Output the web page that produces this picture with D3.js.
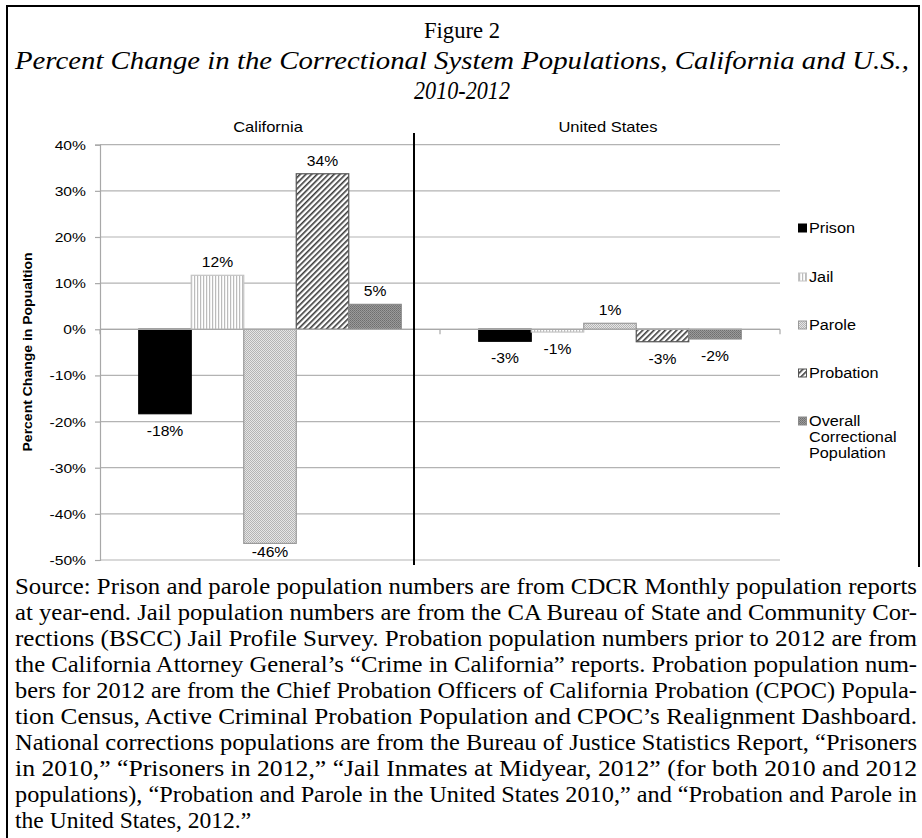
<!DOCTYPE html>
<html><head><meta charset="utf-8">
<script src="https://cdn.jsdelivr.net/npm/d3@7"></script>
<style>body{margin:0;background:#fff}</style>
</head><body><svg id="c" width="922" height="838"></svg>
<script>
// ---- data ----
const regions = ["California", "United States"];
const seriesNames = ["Prison", "Jail", "Parole", "Probation", "Overall Correctional Population"];
const legendLines = [["Prison"], ["Jail"], ["Parole"], ["Probation"], ["Overall", "Correctional", "Population"]];
const californiaValues = [-18.3, 11.7, -46.4, 33.7, 5.4];
const unitedStatesValues = [-2.6, -0.6, 1.3, -2.7, -2.1];
const yTicks = [40, 30, 20, 10, 0, -10, -20, -30, -40, -50];
const titleLines = ["Figure 2", "Percent Change in the Correctional System Populations, California and U.S.,", "2010-2012"];
const yAxisTitle = "Percent Change in Popualtion";
const sourceLines = [
  "Source: Prison and parole population numbers are from CDCR Monthly population reports",
  "at year-end. Jail population numbers are from the CA Bureau of State and Community Cor-",
  "rections (BSCC) Jail Profile Survey. Probation population numbers prior to 2012 are from",
  "the California Attorney General\u2019s \u201cCrime in California\u201d reports. Probation population num-",
  "bers for 2012 are from the Chief Probation Officers of California Probation (CPOC) Popula-",
  "tion Census, Active Criminal Probation Population and CPOC\u2019s Realignment Dashboard.",
  "National corrections populations are from the Bureau of Justice Statistics Report, \u201cPrisoners",
  "in 2010,\u201d \u201cPrisoners in 2012,\u201d \u201cJail Inmates at Midyear, 2012\u201d (for both 2010 and 2012",
  "populations), \u201cProbation and Parole in the United States 2010,\u201d and \u201cProbation and Parole in",
  "the United States, 2012.\u201d"
];
const valuesByRegion = { "California": californiaValues, "United States": unitedStatesValues };

// ---- setup ----
const svg = d3.select("#c");
const SANS = "'Liberation Sans', Arial, sans-serif";
const SERIF = "'Liberation Serif', 'Times New Roman', serif";

const defs = svg.append("defs");
function pat(id, w, h, draw, tr) {
  const p = defs.append("pattern").attr("id", id).attr("patternUnits", "userSpaceOnUse")
    .attr("width", w).attr("height", h);
  if (tr) p.attr("patternTransform", tr);
  draw(p);
}
pat("pJail", 3, 3, p => {
  p.append("rect").attr("width", 3).attr("height", 3).attr("fill", "#fff");
  p.append("rect").attr("x", 1).attr("width", 1.2).attr("height", 3).attr("fill", "#bcbcbc");
});
pat("pParole", 2, 2, p => {
  p.append("rect").attr("width", 2).attr("height", 2).attr("fill", "#e6e6e6");
  p.append("rect").attr("width", 1).attr("height", 1).attr("fill", "#b4b4b4");
  p.append("rect").attr("x", 1).attr("y", 1).attr("width", 1).attr("height", 1).attr("fill", "#b4b4b4");
});
pat("pProb", 4, 4, p => {
  p.append("rect").attr("width", 4).attr("height", 4).attr("fill", "#fff");
  p.append("rect").attr("width", 1.6).attr("height", 4).attr("fill", "#3a3a3a");
}, "rotate(45)");
pat("pOverall", 2, 2, p => {
  p.append("rect").attr("width", 2).attr("height", 2).attr("fill", "#9a9a9a");
  p.append("rect").attr("width", 1).attr("height", 1).attr("fill", "#6e6e6e");
  p.append("rect").attr("x", 1).attr("y", 1).attr("width", 1).attr("height", 1).attr("fill", "#7a7a7a");
});
const fills = ["#000", "url(#pJail)", "url(#pParole)", "url(#pProb)", "url(#pOverall)"];
const strokes = ["#000", "#c4c4c4", "#9a9a9a", "#555", "#8a8a8a"];

// stretched sans text helper
function stext(g, x, y, str, opts = {}) {
  const sx = opts.sx || 1.16;
  return g.append("text")
    .attr("transform", `translate(${x},${y}) scale(${sx},1)`)
    .attr("text-anchor", opts.anchor || "middle")
    .attr("font-family", SANS)
    .attr("font-size", opts.size || 13.5)
    .attr("font-weight", opts.weight || "normal")
    .attr("fill", "#000")
    .text(str);
}

// ---- frame ----
svg.append("line").attr("x1", 7).attr("x2", 920).attr("y1", 6).attr("y2", 6).attr("stroke", "#000").attr("stroke-width", 2);
svg.append("line").attr("x1", 7).attr("x2", 7).attr("y1", 5).attr("y2", 838).attr("stroke", "#000").attr("stroke-width", 2);
svg.append("line").attr("x1", 919).attr("x2", 919).attr("y1", 5).attr("y2", 567).attr("stroke", "#000").attr("stroke-width", 2);

// ---- titles ----
svg.append("text").attr("x", 462).attr("y", 38).attr("text-anchor", "middle")
  .attr("font-family", SERIF).attr("font-size", 24)
  .attr("textLength", 76).attr("lengthAdjust", "spacingAndGlyphs").text(titleLines[0]);
svg.append("text").attr("x", 462).attr("y", 69).attr("text-anchor", "middle")
  .attr("font-family", SERIF).attr("font-style", "italic").attr("font-size", 26)
  .attr("textLength", 894).attr("lengthAdjust", "spacingAndGlyphs").text(titleLines[1]);
svg.append("text").attr("x", 462).attr("y", 99).attr("text-anchor", "middle")
  .attr("font-family", SERIF).attr("font-style", "italic").attr("font-size", 26)
  .attr("textLength", 96).attr("lengthAdjust", "spacingAndGlyphs").text(titleLines[2]);

// ---- scales ----
const y = d3.scaleLinear().domain([-50, 40]).range([560, 144.7]);
const x0 = d3.scaleBand().domain(regions).range([100, 780]).paddingInner(0).paddingOuter(0);
const x1 = d3.scaleBand().domain(seriesNames).range([0, x0.bandwidth()]).paddingInner(0).paddingOuter(0.738);

const plot = svg.append("g");
// gridlines
plot.selectAll("line.grid").data(yTicks).join("line")
  .attr("x1", 100).attr("x2", 780).attr("y1", d => y(d)).attr("y2", d => y(d))
  .attr("stroke", "#b3b3b3").attr("stroke-width", 1.2);
// y axis
const yAxis = d3.axisLeft(y).tickValues(yTicks).tickSize(5).tickFormat(d => d + "%");
const yg = plot.append("g").attr("transform", "translate(100,0)").call(yAxis);
yg.select(".domain").attr("stroke", "#a8a8a8").attr("stroke-width", 1.2);
yg.selectAll(".tick line").attr("stroke", "#a8a8a8").attr("stroke-width", 1.2);
yg.selectAll(".tick text").remove();
yTicks.forEach(t => stext(plot, 86, y(t) + 5, t + "%", { anchor: "end", size: 13.5 }));

// y title
plot.append("text").attr("transform", `translate(32,${352}) rotate(-90)`)
  .attr("text-anchor", "middle").attr("font-family", SANS).attr("font-weight", "bold")
  .attr("font-size", 12.5).attr("textLength", 199).attr("lengthAdjust", "spacingAndGlyphs")
  .text(yAxisTitle);

// bars
regions.forEach(r => {
  const g = plot.append("g").attr("transform", `translate(${x0(r)},0)`);
  const vals = valuesByRegion[r];
  g.selectAll("rect").data(vals).join("rect")
    .attr("x", (d, i) => x1(seriesNames[i]))
    .attr("width", x1.bandwidth())
    .attr("y", d => Math.min(y(d), y(0)))
    .attr("height", d => Math.abs(y(d) - y(0)))
    .attr("fill", (d, i) => fills[i])
    .attr("stroke", (d, i) => strokes[i]).attr("stroke-width", 1.2);
  vals.forEach((d, i) => {
    const cx = x0(r) + x1(seriesNames[i]) + x1.bandwidth() / 2;
    const ly = d >= 0 ? y(d) - 8 : Math.min(y(d) + 22, 557);
    stext(plot, cx, ly, Math.round(d) + "%", { size: 14, sx: 1.12 });
  });
  stext(plot, x0(r) + x0.bandwidth() / 2 - 2, 132, r, { size: 14, sx: 1.18 });
});

// x axis at zero
const xAxisY = y(0);
plot.append("line").attr("x1", 100).attr("x2", 780).attr("y1", xAxisY).attr("y2", xAxisY)
  .attr("stroke", "#a8a8a8").attr("stroke-width", 1.2);
[100, x0("United States"), 780].forEach(xx => {
  plot.append("line").attr("x1", xx).attr("x2", xx).attr("y1", xAxisY).attr("y2", xAxisY + 5)
    .attr("stroke", "#a8a8a8").attr("stroke-width", 1.2);
});

// divider
plot.append("line").attr("x1", 414).attr("x2", 414).attr("y1", 133).attr("y2", 565)
  .attr("stroke", "#000").attr("stroke-width", 2);

// legend
const legendY = [228, 277, 325, 373, 421];
const lg = svg.append("g");
seriesNames.forEach((s, i) => {
  lg.append("rect").attr("x", 798.5).attr("y", legendY[i] - 4).attr("width", 8).attr("height", 8)
    .attr("fill", fills[i]).attr("stroke", strokes[i]).attr("stroke-width", 1);
  legendLines[i].forEach((ln, j) => {
    stext(lg, 809, legendY[i] + 5 + j * 16, ln, { anchor: "start", size: 14, sx: 1.16 });
  });
});

// source text (justified, glyphs condensed to fit the line width)
const sg = svg.append("g");
const left = 15, right = 917, target = right - left;
const ratios = [];
const nodes = sourceLines.map((ln, i) => {
  const t = sg.append("text").attr("x", left).attr("y", 594 + i * 26)
    .attr("font-family", SERIF).attr("font-size", 24).attr("fill", "#000").text(ln);
  const w = t.node().getComputedTextLength();
  if (i < sourceLines.length - 1) ratios.push(target / w);
  return { t, w };
});
const avg = d3.mean(ratios);
nodes.forEach(({ t, w }, i) => {
  const len = i < sourceLines.length - 1 ? target : w * avg * 0.95;
  t.attr("textLength", len).attr("lengthAdjust", "spacingAndGlyphs");
});
</script></body></html>
